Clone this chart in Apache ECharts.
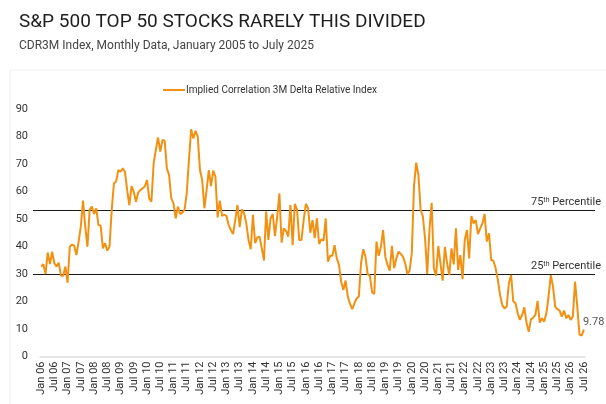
<!DOCTYPE html>
<html>
<head>
<meta charset="utf-8">
<title>CDR3M</title>
<script src="https://cdn.jsdelivr.net/npm/echarts@6/dist/echarts.min.js"></script>
<style>
  html, body { margin: 0; padding: 0; background: #fff; }
  #main { width: 606px; height: 404px; }
</style>
</head>
<body>
<div id="main"></div>
<script>
// month labels, Jan 06 .. Jul 26
var monthNames = ['Jan','Feb','Mar','Apr','May','Jun','Jul','Aug','Sep','Oct','Nov','Dec'];
var firstYear = 2006, lastYear = 2026, lastMonth = 7;

// Implied Correlation 3M Delta Relative Index, monthly
var corr = [
  32.7,33.6,30.0,37.8,33.6,38.1,33.9,32.7,34.1,29.4,29.4,32.7,
  26.8,39.9,40.7,40.3,36.9,41.8,47.2,56.7,47.2,39.9,53.3,54.5,
  51.8,53.9,47.8,47.6,39.3,41.2,38.5,39.9,53.3,62.9,63.6,67.8,
  67.2,68.4,67.2,60.5,55.0,62.0,59.9,56.3,59.6,60.5,61.2,61.8,
  64.2,57.5,56.3,70.2,75.1,79.7,74.5,78.7,78.5,68.4,66.0,57.5,
  55.7,50.2,54.5,51.8,52.3,53.3,59.3,71.5,82.6,79.3,82.1,79.9,
  67.8,64.2,53.9,60.5,67.8,62.0,67.6,65.4,50.6,56.7,51.1,51.5,
  51.1,47.8,46.0,44.5,49.6,55.1,47.0,53.5,52.1,48.4,42.4,39.0,
  51.5,41.2,43.3,43.6,39.3,34.9,52.7,42.4,50.2,51.8,43.8,50.9,
  59.3,41.4,46.6,45.7,43.6,55.1,40.5,55.5,53.3,42.4,42.4,49.6,
  55.5,53.9,45.0,49.6,43.0,50.2,40.9,42.6,42.1,50.2,34.5,36.6,
  36.6,40.5,35.7,33.3,27.2,24.2,27.6,21.8,19.1,17.2,19.3,21.1,
  21.8,33.9,39.0,36.3,30.0,29.3,23.4,22.7,41.8,36.6,39.9,46.0,
  36.3,33.3,31.2,40.2,32.1,35.7,38.1,37.3,36.3,33.9,30.0,31.2,
  37.5,62.0,70.5,66.0,53.3,51.0,43.0,30.0,46.0,55.9,32.1,29.3,
  40.2,33.9,27.6,39.9,33.9,29.6,39.3,33.5,46.6,31.5,36.9,28.1,
  42.4,46.0,35.7,51.1,48.4,49.6,44.5,46.6,48.4,51.8,41.8,44.8,
  35.1,34.8,32.1,27.8,22.4,18.7,17.5,18.1,26.6,29.6,20.0,19.4,
  15.7,13.3,15.1,17.9,12.3,9.0,13.5,14.1,15.1,20.2,12.3,13.9,
  12.7,15.7,22.0,29.6,25.4,18.1,17.2,16.7,14.5,16.7,13.9,15.1,
  13.3,14.6,27.2,18.1,8.0,7.6,9.78
];

// percentile reference levels
var p75 = 53.1;
var p25 = 30.0;

var months = [];
for (var y = firstYear; y <= lastYear; y++) {
    for (var m = 0; m < 12; m++) {
        if (y === lastYear && m >= lastMonth) break;
        months.push(monthNames[m] + ' ' + String(y).slice(2));
    }
}

var orange = '#F29111';
var myChart = echarts.init(document.getElementById('main'));

var option = {
    backgroundColor: '#fff',
    animation: false,
    title: [{
        text: 'S&P 500 TOP 50 STOCKS RARELY THIS DIVIDED',
        left: 14, top: 8,
        textStyle: { fontFamily: 'Roboto', fontSize: 19, fontWeight: 400, color: '#1e1e1e' }
    }, {
        text: 'CDR3M Index, Monthly Data, January 2005 to July 2025',
        left: 14, top: 35,
        textStyle: { fontFamily: 'Roboto', fontSize: 12, fontWeight: 400, color: '#444' }
    }],
    legend: {
        left: 158, top: 80,
        icon: 'rect', itemWidth: 22, itemHeight: 2, itemGap: 4,
        textStyle: { fontFamily: 'Roboto', fontSize: 10, color: '#333', padding: [0, 0, 0, -4] },
        data: ['Implied Correlation 3M Delta Relative Index']
    },
    grid: { left: 40, right: 21, top: 109, bottom: 47.5 },
    xAxis: {
        type: 'category',
        data: months,
        boundaryGap: true,
        axisLine: { lineStyle: { color: '#dedede', width: 1.5 } },
        axisTick: { show: false },
        axisLabel: {
            interval: 5, rotate: 90, margin: 5,
            fontFamily: 'Roboto', fontSize: 11, color: '#333'
        }
    },
    yAxis: {
        type: 'value',
        min: 0, max: 90, interval: 10,
        splitLine: { show: false },
        axisLine: { show: false },
        axisTick: { show: false },
        axisLabel: { margin: 12, fontFamily: 'Roboto', fontSize: 11, color: '#333' }
    },
    series: [{
        name: 'Implied Correlation 3M Delta Relative Index',
        type: 'line',
        data: corr,
        symbol: 'none',
        lineStyle: { color: orange, width: 2 },
        itemStyle: { color: orange },
        endLabel: {
            show: true, offset: [-9, -7],
            fontFamily: 'Roboto', fontSize: 11, color: '#555',
            formatter: function (p) { return p.value; }
        }
    }]
};
myChart.setOption(option);

// percentile lines, placed through the y axis scale
function refLine(val, label) {
    var py = Math.round(myChart.convertToPixel({ yAxisIndex: 0 }, val)) + 0.5;
    return [{
        type: 'line',
        shape: { x1: 33, y1: py, x2: 595, y2: py },
        style: { stroke: '#1a1a1a', lineWidth: 1.2 }
    }, {
        type: 'text',
        x: 601, y: py - 2,
        style: {
            text: '{n|' + label + '}{s|th}{n| Percentile}',
            align: 'right', verticalAlign: 'bottom',
            rich: {
                n: { fontFamily: 'Roboto', fontSize: 11, fill: '#333' },
                s: { fontFamily: 'Roboto', fontSize: 7, fill: '#333', verticalAlign: 'top', padding: [0, 0, 5, 0] }
            }
        }
    }];
}

myChart.setOption({
    graphic: [{
        type: 'rect',
        shape: { x: 10, y: 70, width: 606, height: 345 },
        style: { fill: 'none', stroke: '#eeeeee', lineWidth: 1 },
        silent: true
    }].concat(refLine(p75, '75'), refLine(p25, '25'))
});
</script>
</body>
</html>
